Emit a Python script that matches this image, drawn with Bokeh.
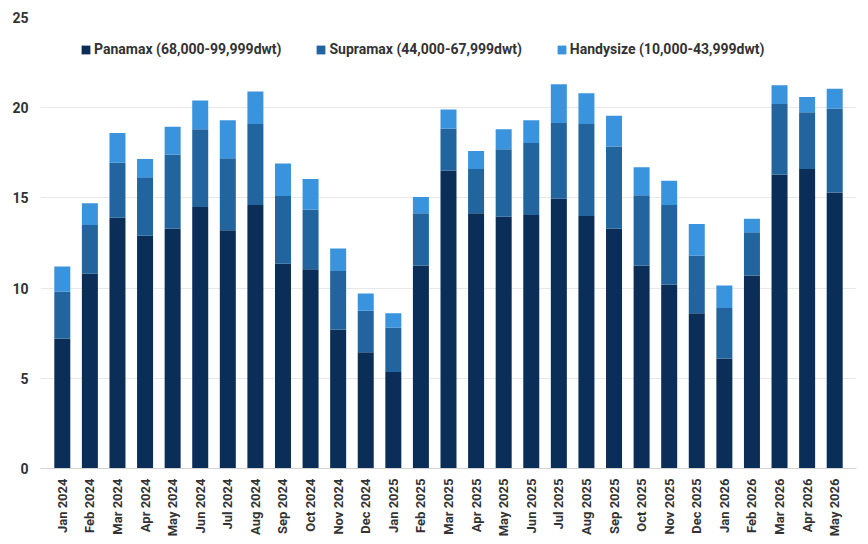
import math
from bokeh.plotting import figure
from bokeh.models import Legend, LegendItem, ColumnDataSource, FactorRange
from bokeh.embed import file_html
from bokeh.resources import INLINE

months = ["Jan 2024", "Feb 2024", "Mar 2024", "Apr 2024", "May 2024", "Jun 2024",
          "Jul 2024", "Aug 2024", "Sep 2024", "Oct 2024", "Nov 2024", "Dec 2024",
          "Jan 2025", "Feb 2025", "Mar 2025", "Apr 2025", "May 2025", "Jun 2025",
          "Jul 2025", "Aug 2025", "Sep 2025", "Oct 2025", "Nov 2025", "Dec 2025",
          "Jan 2026", "Feb 2026", "Mar 2026", "Apr 2026", "May 2026"]

panamax = [7.2, 10.8, 13.9, 12.9, 13.3, 14.5, 13.2, 14.6, 11.35, 11.05, 7.7, 6.45,
           5.35, 11.25, 16.5, 14.15, 13.95, 14.05, 14.95, 14.0, 13.3, 11.25, 10.2,
           8.6, 6.1, 10.7, 16.3, 16.6, 15.3]
supramax = [2.6, 2.7, 3.05, 3.25, 4.1, 4.3, 4.0, 4.5, 3.75, 3.3, 3.25, 2.3,
            2.45, 2.9, 2.35, 2.45, 3.75, 4.0, 4.2, 5.1, 4.55, 3.9, 4.4,
            3.2, 2.8, 2.4, 3.9, 3.15, 4.65]
handysize = [1.4, 1.2, 1.65, 1.0, 1.55, 1.6, 2.1, 1.8, 1.8, 1.7, 1.25, 0.95,
             0.8, 0.9, 1.05, 1.0, 1.1, 1.25, 2.15, 1.7, 1.7, 1.55, 1.35,
             1.75, 1.25, 0.75, 1.05, 0.85, 1.1]

series = ["Panamax", "Supramax", "Handysize"]
labels = ["Panamax (68,000-99,999dwt)", "Supramax (44,000-67,999dwt)",
          "Handysize (10,000-43,999dwt)"]
colors = ["#0b2e58", "#21649e", "#3a93dd"]
y_ticks = [0, 5, 10, 15, 20, 25]

source = ColumnDataSource(dict(month=months, Panamax=panamax,
                               Supramax=supramax, Handysize=handysize))

FONT = "Roboto"
TXT = "#333333"

p = figure(width=868, height=544, x_range=FactorRange(*months, range_padding=0.02),
           y_range=(0, 25), output_backend="svg", toolbar_location=None,
           min_border_left=40, min_border_right=12, min_border_top=17,
           min_border_bottom=76)
p.outline_line_color = None
p.background_fill_color = "white"
p.border_fill_color = "white"

renderers = p.vbar_stack(series, x="month", width=0.58, color=colors,
                         source=source, line_color=None)

p.yaxis.ticker = y_ticks
p.yaxis.axis_line_color = None
p.yaxis.major_tick_line_color = None
p.yaxis.major_tick_out = 0
p.yaxis.major_tick_in = 0
p.yaxis.minor_tick_line_color = None
p.yaxis.major_label_text_font = FONT
p.yaxis.major_label_text_font_style = "bold"
p.yaxis.major_label_text_font_size = "14px"
p.yaxis.major_label_text_color = TXT
p.yaxis.major_label_standoff = 12

p.xaxis.axis_line_color = "#d3d3d3"
p.xaxis.major_tick_line_color = None
p.xaxis.major_tick_out = 0
p.xaxis.major_tick_in = 0
p.xaxis.minor_tick_line_color = None
p.xaxis.major_label_orientation = math.pi / 2
p.xaxis.major_label_text_font = FONT
p.xaxis.major_label_text_font_style = "bold"
p.xaxis.major_label_text_font_size = "13px"
p.xaxis.major_label_text_color = TXT
p.xaxis.major_label_standoff = 10

p.xgrid.grid_line_color = None
p.ygrid.grid_line_color = "#e8e8e8"
p.ygrid.grid_line_width = 1

legend = Legend(items=[LegendItem(label=lab, renderers=[r]) for lab, r in zip(labels, renderers)],
                orientation="horizontal", location=(40, 411))
legend.padding = 0
legend.margin = 0
legend.spacing = 34
legend.glyph_width = 11
legend.glyph_height = 11
legend.label_standoff = 3
legend.label_height = 16
legend.border_line_color = None
legend.background_fill_alpha = 0
legend.label_text_font = FONT
legend.label_text_font_style = "bold"
legend.label_text_font_size = "14px"
legend.label_text_color = TXT
p.add_layout(legend, "center")

open("out.html", "w").write(file_html(p, INLINE))
